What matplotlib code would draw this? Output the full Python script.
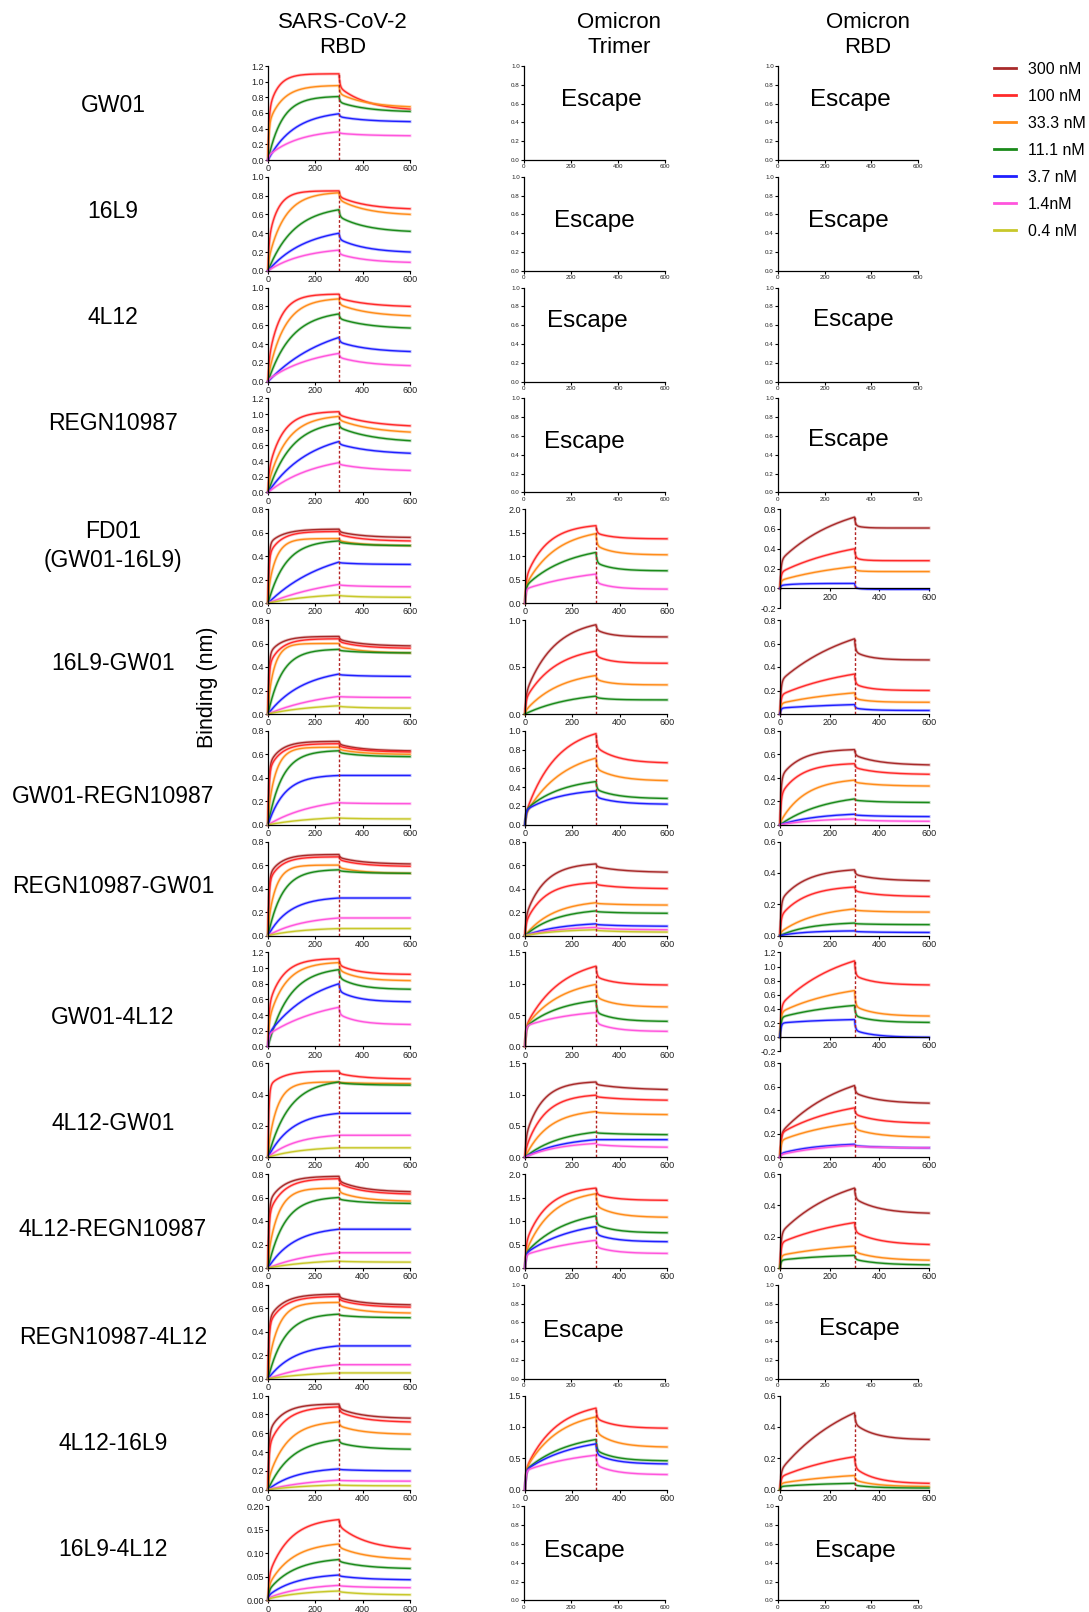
import numpy as np
import matplotlib
matplotlib.use('Agg')
import matplotlib.pyplot as plt
from matplotlib.lines import Line2D

plt.rcParams['font.family'] = ['Liberation Sans', 'DejaVu Sans']

W, H = 1089, 1612

# ---------------------------------------------------------------------------
# data
# ---------------------------------------------------------------------------
conc_labels = ['300 nM', '100 nM', '33.3 nM', '11.1 nM', '3.7 nM', '1.4nM', '0.4 nM']
conc_colors = ['#a82a2a', '#ff2a2a', '#ff8c1a', '#1a8a1a', '#1f1fff', '#ff55dd', '#c8c82a']

row_names = ['GW01', '16L9', '4L12', 'REGN10987', 'FD01\n(GW01-16L9)', '16L9-GW01',
             'GW01-REGN10987', 'REGN10987-GW01', 'GW01-4L12', '4L12-GW01',
             '4L12-REGN10987', 'REGN10987-4L12', '4L12-16L9', '16L9-4L12']
col_titles = ['SARS-CoV-2\nRBD', 'Omicron\nTrimer', 'Omicron\nRBD']

# SARS-CoV-2 RBD column: concentration indices, response at 300 s (peak), at 600 s (end),
# fast initial jump, association time constant (s)
rbd_conc = [[1, 2, 3, 4, 5], [1, 2, 3, 4, 5], [1, 2, 3, 4, 5], [1, 2, 3, 4, 5],
            [0, 1, 2, 3, 4, 5, 6], [0, 1, 2, 3, 4, 5, 6], [0, 1, 2, 3, 4, 5, 6], [0, 1, 2, 3, 4, 5, 6],
            [1, 2, 3, 4, 5], [1, 2, 3, 4, 5, 6], [0, 1, 2, 3, 4, 5, 6], [0, 1, 2, 3, 4, 5, 6],
            [0, 1, 2, 3, 4, 5, 6], [1, 2, 3, 4, 5, 6]]
rbd_peak = [[1.10, 0.95, 0.81, 0.59, 0.36], [0.85, 0.83, 0.65, 0.40, 0.22],
            [0.93, 0.88, 0.72, 0.47, 0.30], [1.03, 0.97, 0.88, 0.65, 0.38],
            [0.63, 0.61, 0.55, 0.53, 0.35, 0.16, 0.07], [0.66, 0.64, 0.60, 0.55, 0.34, 0.15, 0.07],
            [0.71, 0.69, 0.66, 0.63, 0.42, 0.19, 0.06], [0.69, 0.67, 0.60, 0.56, 0.32, 0.15, 0.06],
            [1.12, 1.07, 0.98, 0.80, 0.50], [0.55, 0.48, 0.48, 0.28, 0.14, 0.06],
            [0.78, 0.76, 0.68, 0.60, 0.33, 0.13, 0.06], [0.72, 0.70, 0.65, 0.55, 0.28, 0.12, 0.05],
            [0.91, 0.88, 0.72, 0.53, 0.22, 0.10, 0.05], [0.172, 0.12, 0.087, 0.054, 0.032, 0.02]]
rbd_end = [[0.65, 0.68, 0.62, 0.49, 0.31], [0.66, 0.60, 0.42, 0.20, 0.09],
           [0.80, 0.70, 0.57, 0.32, 0.17], [0.85, 0.77, 0.66, 0.50, 0.28],
           [0.56, 0.53, 0.49, 0.49, 0.33, 0.14, 0.05], [0.58, 0.56, 0.52, 0.52, 0.32, 0.14, 0.05],
           [0.63, 0.62, 0.60, 0.58, 0.42, 0.18, 0.05], [0.61, 0.59, 0.53, 0.53, 0.32, 0.15, 0.06],
           [0.92, 0.84, 0.73, 0.57, 0.28], [0.50, 0.47, 0.46, 0.28, 0.14, 0.06],
           [0.65, 0.63, 0.57, 0.55, 0.33, 0.13, 0.05], [0.63, 0.61, 0.56, 0.52, 0.28, 0.12, 0.05],
           [0.76, 0.72, 0.59, 0.43, 0.20, 0.09, 0.04], [0.11, 0.088, 0.068, 0.044, 0.027, 0.012]]
rbd_jump = [[0.6, 0.45, 0, 0, 0.05], [0.3, 0.1, 0, 0, 0], [0.2, 0.05, 0, 0, 0.02], [0.25, 0.1, 0, 0, 0],
            [0.5, 0.4, 0.1, 0, 0, 0, 0], [0.5, 0.4, 0.1, 0, 0, 0, 0], [0.5, 0.45, 0.1, 0, 0, 0, 0],
            [0.5, 0.45, 0.1, 0, 0, 0, 0], [0.5, 0.3, 0, 0.15, 0.15], [0.45, 0.05, 0, 0, 0, 0],
            [0.55, 0.45, 0.1, 0, 0, 0, 0], [0.5, 0.45, 0.1, 0, 0, 0, 0], [0.6, 0.45, 0.1, 0, 0, 0, 0],
            [0.05, 0.03, 0.02, 0.01, 0.005, 0.003]]
rbd_tau = [[40, 60, 60, 110, 130], [40, 70, 110, 160, 150], [50, 70, 100, 250, 200],
           [60, 80, 100, 180, 200], [60, 50, 35, 75, 250, 300, 200], [50, 50, 30, 60, 150, 250, 200],
           [50, 50, 35, 60, 70, 200, 200], [50, 50, 35, 60, 90, 150, 150], [60, 70, 90, 200, 250],
           [60, 40, 90, 100, 120, 150], [60, 60, 45, 70, 110, 200, 200], [60, 60, 45, 70, 110, 200, 200],
           [60, 70, 80, 100, 120, 200, 200], [90, 100, 110, 120, 150, 150]]
rbd_drop = [0.35, 0.3, 0.3, 0.2, 0.3, 0.3, 0.3, 0.3, 0.4, 0.3, 0.3, 0.3, 0.3, 0.2]
rbd_taud = [120, 120, 130, 150, 100, 100, 100, 100, 80, 100, 100, 100, 100, 120]
rbd_ymin = [0] * 14
rbd_ymax = [1.2, 1.0, 1.0, 1.2, 0.8, 0.8, 0.8, 0.8, 1.2, 0.6, 0.8, 0.8, 1.0, 0.2]
rbd_ystep = [0.2] * 13 + [0.05]

# Omicron Trimer column (None = Escape)
tri_conc = [None, None, None, None, [1, 2, 3, 5], [0, 1, 2, 3], [1, 2, 3, 4], [0, 1, 2, 3, 4, 5, 6],
            [1, 2, 3, 5], [0, 1, 2, 3, 4, 5], [1, 2, 3, 4, 5], None, [1, 2, 3, 4, 5], None]
tri_peak = [None, None, None, None, [1.65, 1.48, 1.08, 0.62], [0.95, 0.67, 0.41, 0.19],
            [0.97, 0.71, 0.46, 0.36], [0.61, 0.45, 0.28, 0.21, 0.10, 0.07, 0.05],
            [1.28, 0.99, 0.73, 0.54], [1.20, 0.99, 0.73, 0.40, 0.28, 0.22],
            [1.70, 1.58, 1.11, 0.88, 0.59], None, [1.30, 1.16, 0.80, 0.73, 0.55], None]
tri_end = [None, None, None, None, [1.37, 1.03, 0.69, 0.30], [0.82, 0.54, 0.31, 0.15],
           [0.66, 0.47, 0.28, 0.22], [0.54, 0.40, 0.26, 0.19, 0.08, 0.05, 0.03],
           [0.98, 0.63, 0.40, 0.24], [1.08, 0.91, 0.68, 0.36, 0.28, 0.16],
           [1.44, 1.08, 0.75, 0.56, 0.31], None, [0.98, 0.68, 0.46, 0.41, 0.24], None]
tri_jump = [None, None, None, None, [0.5, 0.35, 0.35, 0.3], [0.2, 0.15, 0.03, 0],
            [0.1, 0.1, 0.15, 0.15], [0.15, 0.1, 0, 0, 0, 0, 0], [0.3, 0.3, 0.3, 0.32],
            [0.3, 0.1, 0, 0, 0, 0], [0.5, 0.3, 0.3, 0.3, 0.28], None, [0.3, 0.3, 0.3, 0.3, 0.3], None]
tri_tau = [None, None, None, None, [90, 130, 180, 300], [120, 130, 150, 200], [130, 160, 150, 150],
           [80, 80, 120, 130, 150, 150, 150], [150, 150, 150, 200], [70, 80, 100, 150, 160, 150],
           [90, 110, 170, 200, 300], None, [130, 140, 180, 200, 250], None]
tri_drop = [0, 0, 0, 0, 0.55, 0.4, 0.45, 0.3, 0.55, 0.3, 0.5, 0, 0.5, 0]
tri_taud = [1, 1, 1, 1, 70, 60, 90, 120, 80, 150, 80, 1, 80, 1]
tri_ymin = [0] * 14
tri_ymax = [1.0, 1.0, 1.0, 1.0, 2.0, 1.0, 1.0, 0.8, 1.5, 1.5, 2.0, 1.0, 1.5, 1.0]
tri_ystep = [0.2, 0.2, 0.2, 0.2, 0.5, 0.5, 0.2, 0.2, 0.5, 0.5, 0.5, 0.2, 0.5, 0.2]

# Omicron RBD column (None = Escape)
omi_conc = [None, None, None, None, [0, 1, 2, 4], [0, 1, 2, 4], [0, 1, 2, 3, 4, 5], [0, 1, 2, 3, 4],
            [1, 2, 3, 4], [0, 1, 2, 4, 5], [0, 1, 2, 3], None, [0, 1, 2, 3], None]
omi_peak = [None, None, None, None, [0.72, 0.40, 0.22, 0.05], [0.64, 0.34, 0.18, 0.08],
            [0.64, 0.52, 0.38, 0.22, 0.09, 0.05], [0.42, 0.31, 0.17, 0.08, 0.03],
            [1.08, 0.66, 0.45, 0.25], [0.61, 0.42, 0.29, 0.11, 0.10],
            [0.51, 0.29, 0.14, 0.08], None, [0.49, 0.21, 0.09, 0.04], None]
omi_end = [None, None, None, None, [0.61, 0.28, 0.17, -0.01], [0.46, 0.20, 0.10, 0.03],
           [0.51, 0.43, 0.33, 0.19, 0.07, 0.03], [0.35, 0.25, 0.15, 0.07, 0.02],
           [0.74, 0.30, 0.21, 0.0], [0.46, 0.29, 0.17, 0.08, 0.08],
           [0.35, 0.15, 0.05, 0.02], None, [0.32, 0.04, 0.02, 0.01], None]
omi_jump = [None, None, None, None, [0.28, 0.16, 0.08, 0.03], [0.28, 0.16, 0.09, 0.05],
            [0.4, 0.25, 0.02, 0, 0, 0], [0.22, 0.12, 0.02, 0, 0], [0.45, 0.35, 0.28, 0.2],
            [0.2, 0.2, 0.14, 0.03, 0.02], [0.22, 0.16, 0.08, 0.05], None, [0.12, 0.08, 0.04, 0.02], None]
omi_tau = [None, None, None, None, [250, 300, 300, 60], [300, 300, 300, 300],
           [80, 80, 100, 180, 150, 150], [100, 100, 150, 120, 100], [250, 250, 250, 200],
           [250, 250, 250, 150, 200], [250, 300, 300, 200], None, [300, 300, 300, 200], None]
omi_drop = [0, 0, 0, 0, 0.75, 0.6, 0.35, 0.4, 0.6, 0.4, 0.4, 0, 0.4, 0]
omi_taud = [1, 1, 1, 1, 30, 60, 100, 100, 80, 100, 100, 1, 80, 1]
omi_ymin = [0, 0, 0, 0, -0.2, 0, 0, 0, -0.2, 0, 0, 0, 0, 0]
omi_ymax = [1.0, 1.0, 1.0, 1.0, 0.8, 0.8, 0.8, 0.6, 1.2, 0.8, 0.6, 1.0, 0.6, 1.0]
omi_ystep = [0.2] * 14

# where the "Escape" word sits inside the empty panels (axes fraction)
escape_pos = {(0, 1): (0.55, 0.64), (1, 1): (0.50, 0.53), (2, 1): (0.45, 0.64), (3, 1): (0.43, 0.54),
              (11, 1): (0.42, 0.51), (13, 1): (0.43, 0.53),
              (0, 2): (0.52, 0.64), (1, 2): (0.50, 0.53), (2, 2): (0.54, 0.66), (3, 2): (0.50, 0.56),
              (11, 2): (0.58, 0.53), (13, 2): (0.55, 0.53)}


def sensorgram(peak, end, jump, tau, drop, taud):
    # association 0-300 s, dissociation 300-600 s, shaped to the values read above
    ta = np.linspace(0, 300, 301)
    assoc = jump * (1 - np.exp(-ta / 4)) + (peak - jump) * (1 - np.exp(-ta / tau)) / (1 - np.exp(-300 / tau))
    s = np.linspace(0, 300, 301)
    r = (1 - drop) * np.exp(-300 / taud)
    w = (drop * np.exp(-s / 4) + (1 - drop) * np.exp(-s / taud) - r) / (1 - r)
    dissoc = end + (peak - end) * w
    return np.concatenate([ta, 300 + s[1:]]), np.concatenate([assoc, dissoc[1:]])


fig = plt.figure(figsize=(W / 100, H / 100), dpi=100)


def add_ax(x0, top, w, h):
    return fig.add_axes([x0 / W, 1 - (top + h) / H, w / W, h / H])


def style(ax, ylo, yhi, ystep, fs):
    ax.set_xlim(0, 600)
    ax.set_ylim(ylo, yhi)
    ax.set_xticks([0, 200, 400, 600])
    yt = np.arange(ylo, yhi + 1e-9, ystep)
    fmt = '%.2f' if ystep < 0.1 else '%.1f'
    ax.set_yticks(yt)
    ax.set_yticklabels([fmt % (0 if abs(v) < 1e-9 else v) for v in yt])
    for sp in ['top', 'right']:
        ax.spines[sp].set_visible(False)
    for sp in ['left', 'bottom']:
        ax.spines[sp].set_linewidth(0.9)
    if ylo < 0:
        ax.spines['bottom'].set_position(('data', 0))
        ax.set_xticklabels(['', '200', '400', '600'])
    ax.tick_params(length=2, width=0.8, labelsize=fs, pad=1, labelcolor='#222222')
    ax.patch.set_alpha(0)


col_data = [
    (rbd_conc, rbd_peak, rbd_end, rbd_jump, rbd_tau, rbd_drop, rbd_taud, rbd_ymin, rbd_ymax, rbd_ystep),
    (tri_conc, tri_peak, tri_end, tri_jump, tri_tau, tri_drop, tri_taud, tri_ymin, tri_ymax, tri_ystep),
    (omi_conc, omi_peak, omi_end, omi_jump, omi_tau, omi_drop, omi_taud, omi_ymin, omi_ymax, omi_ystep),
]
# panel geometry in pixels: (x0 with data, width with data, x0 escape, width escape)
col_geom = [(268, 142, 268, 142), (525, 142, 524, 141), (780, 149, 778, 140)]

for i in range(14):
    top = 66 + i * 110.8
    for c in range(3):
        conc, peak, end, jump, tau, drop, taud, ymin, ymax, ystep = col_data[c]
        xd, wd, xe, we = col_geom[c]
        if conc[i] is None:
            ax = add_ax(xe, top, we, 94)
            style(ax, 0, ymax[i], ystep[i], 4.5)
            ex, ey = escape_pos[(i, c)]
            ax.text(ex, ey, 'Escape', transform=ax.transAxes, ha='center', va='center', fontsize=17.5)
            continue
        h = 99 if ymin[i] < 0 else 94
        ax = add_ax(xd, top, wd, h)
        for k, ci in enumerate(conc[i]):
            t, y = sensorgram(peak[i][k], end[i][k], jump[i][k], tau[i][k], drop[i], taud[i])
            ax.plot(t, y, color=conc_colors[ci], lw=2.2, alpha=0.3, clip_on=False)
            ax.plot(t, y, color=conc_colors[ci], lw=1.0, clip_on=False)
        ax.vlines(300, 0, max(peak[i]), colors='#b22222', linestyles=(0, (2, 1.5)), lw=1.0)
        style(ax, ymin[i], ymax[i], ystep[i], 6.5)

# row labels, column titles, y label
row_y = [106, 212, 318, 424, 546, 664, 797, 887, 1018, 1124, 1230, 1337, 1444, 1549]
for name, yy in zip(row_names, row_y):
    fig.text(113 / W, 1 - yy / H, name, ha='center', va='center', fontsize=16.5, linespacing=1.3)

for title, xx in zip(col_titles, [343, 619, 868]):
    fig.text(xx / W, 1 - 35 / H, title, ha='center', va='center', fontsize=16, linespacing=1.3)

fig.text(208 / W, 1 - 687 / H, 'Binding (nm)', rotation=90, ha='center', va='center', fontsize=15.5)

handles = [Line2D([0], [0], color=col, lw=2) for col in conc_colors]
fig.legend(handles, conc_labels, loc='upper left', bbox_to_anchor=(994 / W, 1 - 62 / H),
           frameon=False, fontsize=11.5, handlelength=1.4, handletextpad=0.7,
           labelspacing=0.75, borderaxespad=0, borderpad=0)

fig.savefig('out.png', dpi=100)
